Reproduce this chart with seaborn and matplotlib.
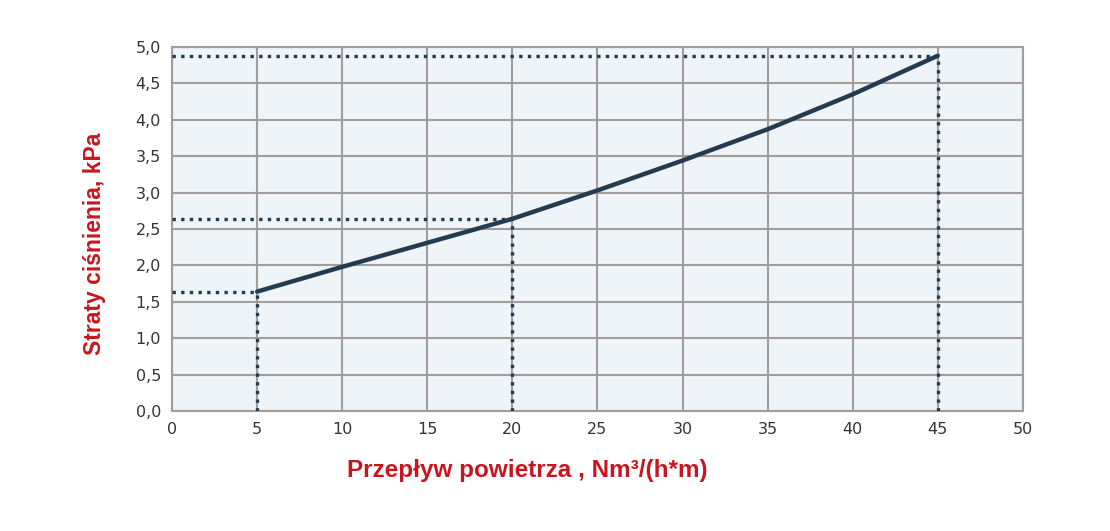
import matplotlib
matplotlib.use("Agg")
import matplotlib.pyplot as plt
import seaborn as sns
import pandas as pd

flow = [5, 10, 15, 20, 25, 30, 35, 40, 45]
loss = [1.64, 1.98, 2.31, 2.64, 3.03, 3.44, 3.87, 4.35, 4.88]
ref_x = [5, 20, 45]
ref_y = [1.64, 2.64, 4.88]
x_ticks = [0, 5, 10, 15, 20, 25, 30, 35, 40, 45, 50]
y_ticks = [0.0, 0.5, 1.0, 1.5, 2.0, 2.5, 3.0, 3.5, 4.0, 4.5, 5.0]

sns.set_style("white")
plt.rcParams['font.family'] = ['DejaVu Sans']

df = pd.DataFrame({"x": flow, "y": loss})
fig = plt.figure(figsize=(11.1, 5.31), dpi=100)
ax = fig.add_axes([0.155, 0.226, 0.7665, 0.6855])
ax.set_facecolor("#eef4f7")

navy = "#243a4f"
red = "#c8161e"

for xv, yv in zip(ref_x, ref_y):
    ax.plot([0, xv], [yv, yv], linestyle=(0, (1, 1.6)), color=navy, lw=2.4, zorder=3)
    ax.plot([xv, xv], [0, yv], linestyle=(0, (1, 1.6)), color=navy, lw=2.4, zorder=3)

sns.lineplot(data=df, x="x", y="y", ax=ax, color=navy, lw=3.2, zorder=4)

ax.set_xlim(0, 50)
ax.set_ylim(0, 5.0)
ax.set_xticks(x_ticks)
ax.set_yticks(y_ticks)
ax.set_xticklabels([str(v) for v in x_ticks])
ax.set_yticklabels([f"{v:.1f}".replace(".", ",") for v in y_ticks])
ax.grid(True, color="#a09d9c", lw=1.5, zorder=0)
ax.set_axisbelow(True)
for s in ax.spines.values():
    s.set_color("#a09d9c")
    s.set_linewidth(1.5)
ax.tick_params(axis="y", length=5, color="#444444", labelsize=11.5, labelcolor="#333333", pad=3)
ax.tick_params(axis="x", length=0, labelsize=11.5, labelcolor="#333333", pad=8)
ax.set_xlabel("")
ax.set_ylabel("")

fig.text(0.475, 0.113, "Przepływ powietrza , Nm³/(h*m)", fontsize=17.5, fontweight="bold",
         color=red, family=["Liberation Sans"], ha="center", va="center")
fig.text(0.085, 0.54, "Straty ciśnienia, kPa", fontsize=16.5, fontweight="bold",
         color=red, family=["Liberation Sans"], ha="center", va="center", rotation=90)

fig.savefig("out.png", dpi=100)
